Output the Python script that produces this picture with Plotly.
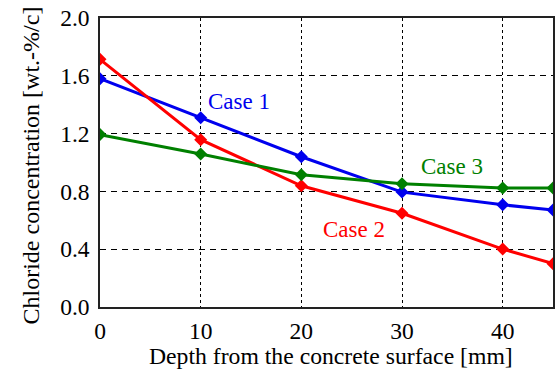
import plotly.graph_objects as go

depth = [0, 10, 20, 30, 40, 45]
case1 = [1.58, 1.31, 1.04, 0.795, 0.707, 0.672]
case2 = [1.714, 1.158, 0.839, 0.649, 0.401, 0.30]
case3 = [1.193, 1.059, 0.915, 0.853, 0.823, 0.823]
names = ["Case 1", "Case 2", "Case 3"]
colors = ["#0000ee", "#ff0000", "#008000"]
label_pos = [(10.5, 1.42), (22.0, 0.538), (31.7, 0.973)]
x_ticks = [0, 10, 20, 30, 40]
y_ticks = [0.0, 0.4, 0.8, 1.2, 1.6, 2.0]

FONT = "Liberation Serif, Times New Roman, serif"

fig = go.Figure()
for ys, nm, col in zip([case1, case2, case3], names, colors):
    fig.add_trace(go.Scatter(x=depth, y=ys, mode="lines+markers", name=nm,
                             line=dict(color=col, width=3),
                             marker=dict(symbol="diamond", size=10, color=col),
                             showlegend=False))

for (lx, ly), nm, col in zip(label_pos, names, colors):
    fig.add_annotation(x=lx, y=ly, text=nm, showarrow=False, xanchor="left",
                       yanchor="middle", font=dict(family=FONT, size=23, color=col))

fig.add_annotation(xref="paper", yref="paper", x=0.5, y=0, yanchor="middle",
                   yshift=-49, xshift=4, showarrow=False,
                   text="Depth from the concrete surface [mm]",
                   font=dict(family=FONT, size=23.7, color="black"))
fig.add_annotation(xref="paper", yref="paper", x=0, y=0.5, xanchor="center",
                   xshift=-70, yshift=-3, textangle=-90, showarrow=False,
                   text="Chloride concentration [wt.-%/c]",
                   font=dict(family=FONT, size=24, color="black"))

fig.update_layout(
    width=557, height=373,
    margin=dict(l=99.5, r=2, t=18, b=66),
    plot_bgcolor="white", paper_bgcolor="white",
    font=dict(family=FONT, size=23.5, color="black"),
    xaxis=dict(range=[0, 45], tickvals=x_ticks, showgrid=True,
               gridcolor="black", griddash="3px,3px", gridwidth=1,
               showline=True, linecolor="#222", linewidth=1.5, mirror=True,
               ticks="", zeroline=False, ticklabelstandoff=2),
    yaxis=dict(range=[0, 2.0], tickvals=y_ticks, tickformat=".1f", showgrid=True,
               gridcolor="black", griddash="6px,5px", gridwidth=1,
               showline=True, linecolor="#222", linewidth=1.5, mirror=True,
               ticks="", zeroline=False, ticklabelstandoff=4),
)

fig.write_html("out.html")
